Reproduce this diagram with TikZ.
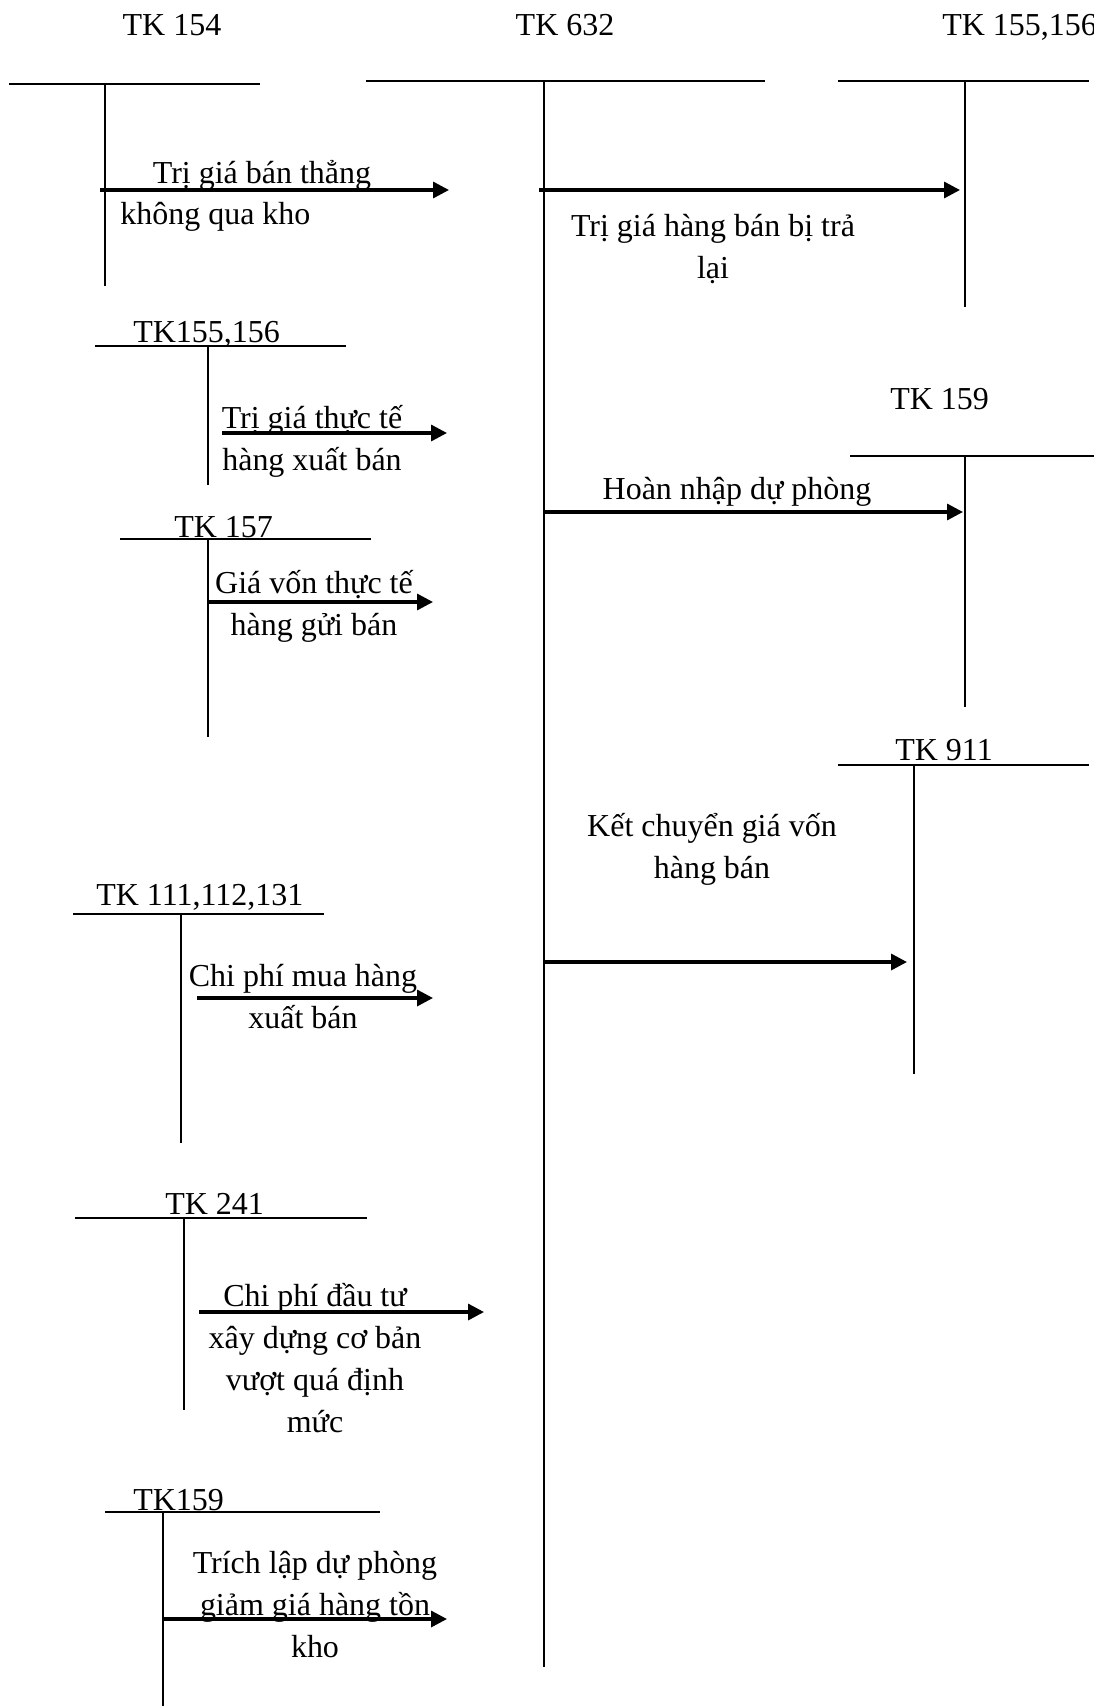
\documentclass[tikz,border=0pt]{standalone}
\usepackage{fontspec}
\setmainfont{Liberation Serif}
\usetikzlibrary{arrows.meta,positioning}

\begin{document}
\begin{tikzpicture}[
  x=0.02cm, y=-0.02cm,
  every node/.style={font=\fontsize{18.2}{23.9}\selectfont, inner sep=0pt},
  acct/.style={anchor=base west, yshift=-0.05cm},
  lbl/.style={anchor=base, align=center, yshift=-0.05cm},
  tbar/.style={line width=1.4pt},
  tleg/.style={line width=0.9pt},
  flow/.style={-{Triangle[length=9pt,width=9pt]}, line width=1.9pt}
]
\useasboundingbox (0,0) rectangle (1094,1706);

% T accounts
\node[lbl] (tk154) at (172,33) {TK 154};
\draw[tbar] (9,84) -- (260,84);
\draw[tleg] (105,84) -- (105,286);

\node[lbl] (tk632) at (565,33) {TK 632};
\draw[tbar] (366,81) -- (765,81);
\draw[tleg] (544,81) -- (544,1667);

\node[acct] (tk155r) at (942,33) {TK 155,156};
\draw[tbar] (838,81) -- (1089,81);
\draw[tleg] (965,81) -- (965,307);

\node[acct] (tk155l) at (133,340) {TK155,156};
\draw[tbar] (95,346) -- (346,346);
\draw[tleg] (208,346) -- (208,485);

\node[acct] (tk159r) at (890,407) {TK 159};
\draw[tbar] (850,456) -- (1094,456);
\draw[tleg] (965,456) -- (965,707);

\node[acct] (tk157) at (174,535) {TK 157};
\draw[tbar] (120,539) -- (371,539);
\draw[tleg] (208,539) -- (208,737);

\node[acct] (tk911) at (895,758) {TK 911};
\draw[tbar] (838,765) -- (1089,765);
\draw[tleg] (914,765) -- (914,1074);

\node[acct] (tk111) at (96,903) {TK 111,112,131};
\draw[tbar] (73,914) -- (324,914);
\draw[tleg] (181,914) -- (181,1143);

\node[acct] (tk241) at (165,1212) {TK 241};
\draw[tbar] (75,1218) -- (367,1218);
\draw[tleg] (184,1218) -- (184,1410);

\node[acct] (tk159l) at (133,1508) {TK159};
\draw[tbar] (105,1512) -- (380,1512);
\draw[tleg] (163,1512) -- (163,1706);

% arrow ends
\coordinate (s1) at (100,190);  \coordinate (e1) at (449,190);
\coordinate (s2) at (539,190);  \coordinate (e2) at (960,190);
\coordinate (s3) at (222,433);  \coordinate (e3) at (447,433);
\coordinate (s4) at (544,512);  \coordinate (e4) at (963,512);
\coordinate (s5) at (209,602);  \coordinate (e5) at (433,602);
\coordinate (s6) at (544,962);  \coordinate (e6) at (907,962);
\coordinate (s7) at (197,998);  \coordinate (e7) at (433,998);
\coordinate (s8) at (199,1312); \coordinate (e8) at (484,1312);
\coordinate (s9) at (164,1619); \coordinate (e9) at (447,1619);

\foreach \i in {1,...,9}
  \draw[flow] (s\i) -- (e\i);

% labels (base = last line)
\node[lbl] (ban) at (262,181) {Trị giá bán thẳng};
\node[acct] (kho) at (120,222) {không qua kho};
\node[lbl] (tra) at (713,276) {Trị giá hàng bán bị trả\\lại};
\node[lbl] (xuat) at (312,468) {Trị giá thực tế\\hàng xuất bán};
\node[lbl] (hoan) at (737,497) {Hoàn nhập dự phòng};
\node[lbl] (gui) at (314,633) {Giá vốn thực tế\\hàng gửi bán};
\node[lbl] (ketc) at (712,876) {Kết chuyển giá vốn\\hàng bán};
\node[lbl] (mua) at (303,1026) {Chi phí mua hàng\\xuất bán};
\node[lbl] (dautu) at (315,1430) {Chi phí đầu tư\\xây dựng cơ bản\\vượt quá định\\mức};
\node[lbl] (trich) at (315,1655) {Trích lập dự phòng\\giảm giá hàng tồn\\kho};

\end{tikzpicture}
\end{document}
